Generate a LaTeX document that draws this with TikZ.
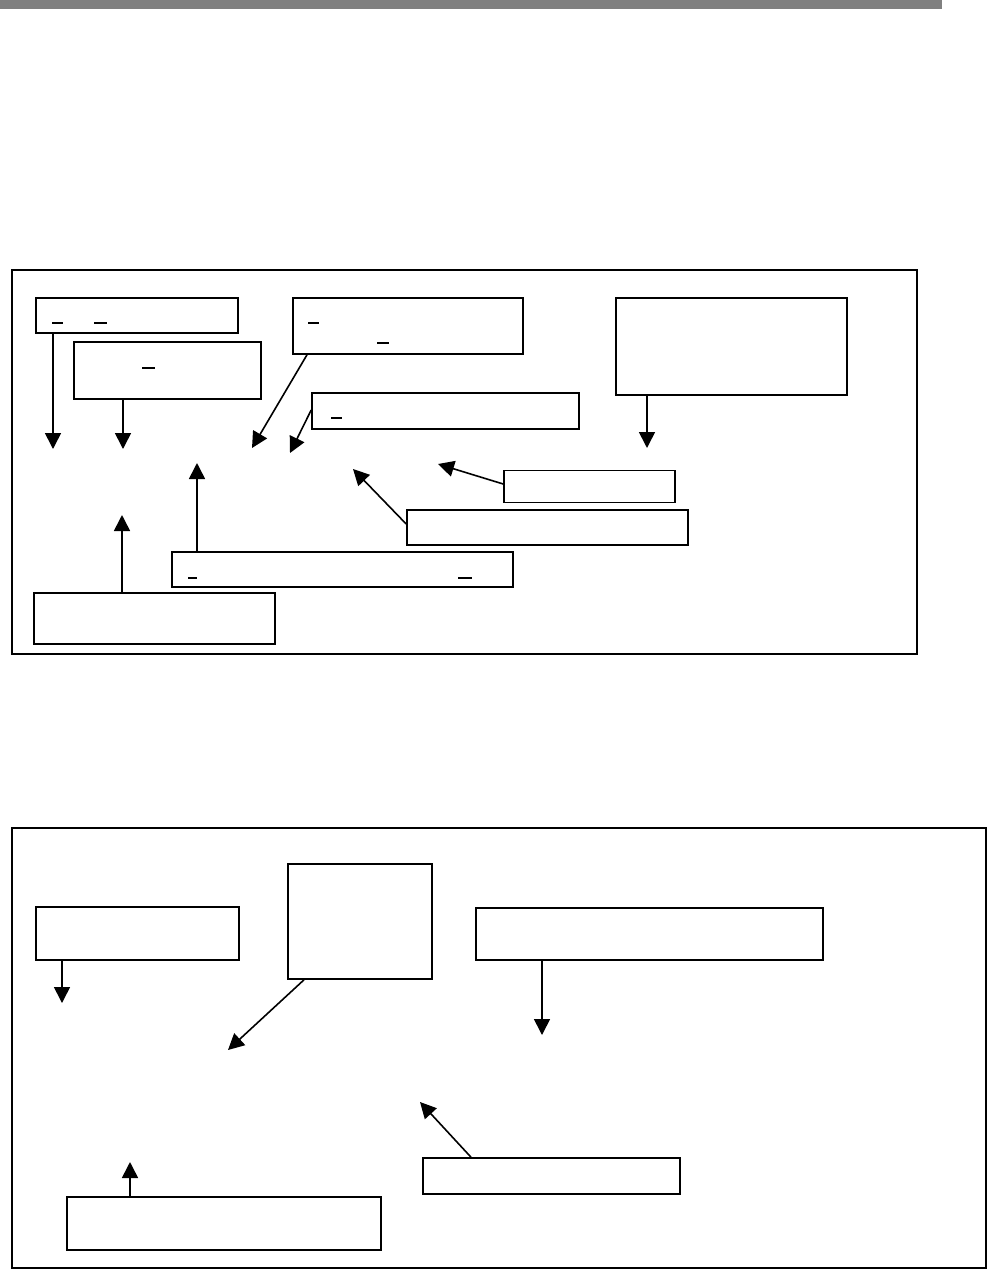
\documentclass[tikz,border=0pt]{standalone}
\usetikzlibrary{arrows.meta}
\begin{document}
\begin{tikzpicture}[x=1pt,y=-1pt,
  box/.style={draw=black,line width=1.6pt,fill=white,inner sep=0pt,rectangle},
  frame/.style={draw=black,line width=2pt},
  arr/.style={line width=1.6pt,-{Triangle[width=16pt,length=16pt]}},
  uline/.style={line width=1.6pt}]
\useasboundingbox (0,0) rectangle (987,1270);
\fill[fill={rgb,255:red,128;green,128;blue,128}] (0,0) rectangle (942,9);
% frames
\draw[frame] (12,270) rectangle (917,654);
\draw[frame] (12,828) rectangle (986,1268);
% upper boxes
\node[box,minimum width=202pt,minimum height=35pt] (A) at (137,315.5) {};
\node[box,minimum width=187pt,minimum height=57pt] (B) at (167.5,370.5) {};
\node[box,minimum width=230pt,minimum height=56pt] (C) at (408,326) {};
\node[box,minimum width=267pt,minimum height=36pt] (D) at (445.5,411) {};
\node[box,minimum width=231pt,minimum height=97pt] (E) at (731.5,346.5) {};
\node[box,minimum width=171pt,minimum height=32pt] (F) at (589.5,486.5) {};
\node[box,minimum width=281pt,minimum height=35pt] (G) at (547.5,527.5) {};
\node[box,minimum width=341pt,minimum height=35pt] (H) at (342.5,569.5) {};
\node[box,minimum width=241pt,minimum height=51pt] (I) at (154.5,618.5) {};
% dashes
\draw[uline] (52,323) -- (63,323) (94,323) -- (107,323);
\draw[uline] (142,368) -- (155,368);
\draw[uline] (308,323) -- (319,323) (377,343) -- (389,343);
\draw[uline] (331,418) -- (342,418);
\draw[uline] (188,578) -- (197,578) (458,578) -- (472,578);
% upper arrow ends
\coordinate (tA) at (53,449);
\coordinate (tB) at (123,449);
\coordinate (sC) at (307,354);
\coordinate (tC) at (252,448);
\coordinate (sD) at (312,410);
\coordinate (tD) at (290,453);
\coordinate (tE) at (647,448);
\coordinate (sF) at (504,484);
\coordinate (tF) at (438,464);
\coordinate (sG) at (407,524);
\coordinate (tG) at (353,469);
\coordinate (tH) at (197,463);
\coordinate (tI) at (122,515);
\draw[arr] (A.south -| tA) -- (tA);
\draw[arr] (B.south -| tB) -- (tB);
\draw[arr] (C.south -| sC) -- (tC);
\draw[arr] (D.west |- sD) -- (tD);
\draw[arr] (E.south -| tE) -- (tE);
\draw[arr] (F.west |- sF) -- (tF);
\draw[arr] (G.west |- sG) -- (tG);
\draw[arr] (H.north -| tH) -- (tH);
\draw[arr] (I.north -| tI) -- (tI);
% lower boxes
\node[box,minimum width=203pt,minimum height=53pt] (J) at (137.5,933.5) {};
\node[box,minimum width=144pt,minimum height=115pt] (K) at (360,921.5) {};
\node[box,minimum width=347pt,minimum height=52pt] (L) at (649.5,934) {};
\node[box,minimum width=257pt,minimum height=36pt] (M) at (551.5,1176) {};
\node[box,minimum width=314pt,minimum height=53pt] (N) at (224,1223.5) {};
\coordinate (tJ) at (62,1003);
\coordinate (sK) at (304,979);
\coordinate (tK) at (228,1050);
\coordinate (tL) at (542,1035);
\coordinate (sM) at (471,1158);
\coordinate (tM) at (420,1102);
\coordinate (tN) at (130,1162);
\draw[arr] (J.south -| tJ) -- (tJ);
\draw[arr] (K.south -| sK) -- (tK);
\draw[arr] (L.south -| tL) -- (tL);
\draw[arr] (M.north -| sM) -- (tM);
\draw[arr] (N.north -| tN) -- (tN);
\end{tikzpicture}
\end{document}
